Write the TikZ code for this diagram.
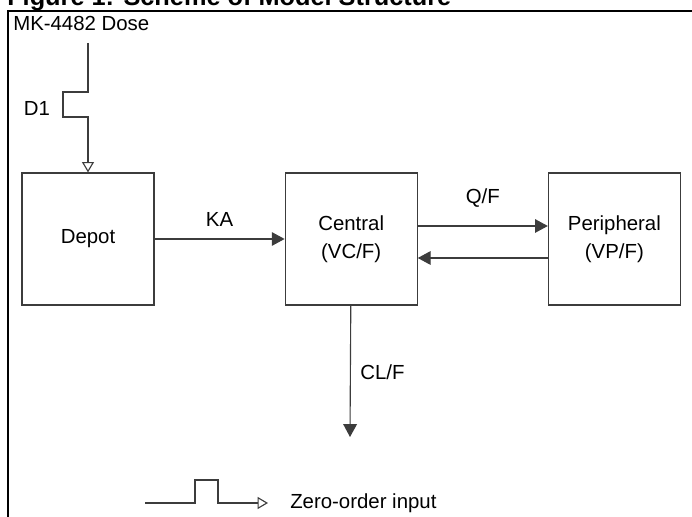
\documentclass[tikz,border=0pt]{standalone}
\usepackage{fontspec}
\setmainfont{Liberation Sans}
\usetikzlibrary{positioning,arrows.meta}
\definecolor{linegray}{RGB}{60,60,60}

\begin{document}
\begin{tikzpicture}[
        x=0.025cm, y=-0.025cm,
        node distance=3.25cm,
        box/.style={rectangle, draw=linegray, line width=0.8pt, minimum width=3.3cm, minimum height=3.3cm, align=center, font=\fontsize{14.5}{19.5}\selectfont},
        lbl/.style={font=\fontsize{14.5}{17}\selectfont, inner sep=0pt},
        arrow/.style={-{Triangle[length=0.32cm, width=0.34cm]}, draw=linegray, line width=0.8pt},
        openarrow/.style={-{Triangle[open, length=0.26cm, width=0.3cm]}, draw=linegray, line width=0.8pt}
    ]
        \useasboundingbox (0,0) rectangle (692,517);

        % frame and title (cut at the top)
        \draw[line width=1.4pt] (8,530) -- (8,11) -- (700,11);
        \node[anchor=base west, inner sep=0pt, font=\bfseries\fontsize{18}{20}\selectfont] (title) at (7,6) {Figure 1: Scheme of Model Structure};

        \node[box] (depot) at (88,239) {Depot};
        \node[box, right=of depot, text depth=0.1cm] (central) {Central\\(VC/F)};
        \node[box, right=of central, text depth=0.1cm] (periph) {Peripheral\\(VP/F)};

        \node[lbl, anchor=west] (dose) at (13,23) {MK-4482 Dose};
        \coordinate (dosetop) at (88,43);
        \draw[openarrow] (dosetop) -- ++(0,49) -- ++(-25,0) -- ++(0,25) -- ++(25,0) -- (depot);
        \node[lbl] (d1) at (37,108) {D1};

        \draw[arrow] (depot) -- (central) node[lbl, midway, above=0.3cm] (ka) {KA};
        \draw[arrow] ([yshift=0.325cm]central.east) -- ([yshift=0.325cm]periph.west) node[lbl, midway, above=0.45cm] (qf) {Q/F};
        \draw[arrow] ([yshift=-0.475cm]periph.west) -- ([yshift=-0.475cm]central.east);

        \coordinate (clend) at (350,437);
        \draw[arrow] (central) -- (clend);
        \node[lbl, anchor=west] (clf) at (360,372) {CL/F};

        % legend
        \node[lbl, anchor=west] (legtext) at (290,503) {Zero-order input};
        \coordinate (legstart) at (145,503);
        \draw[openarrow] (legstart) -- ++(50,0) -- ++(0,-23) -- ++(23,0) -- ++(0,23) -- ++(50,0);
    \end{tikzpicture}
\end{document}
